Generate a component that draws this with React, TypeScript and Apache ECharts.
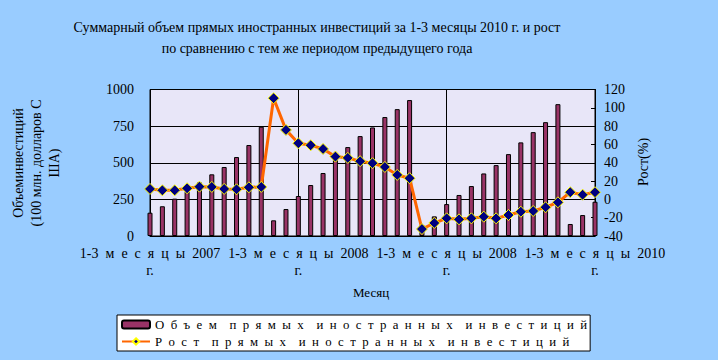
import React, { useEffect, useRef } from "react";
import * as echarts from "echarts";

const categories: string[] = [
  "1-3 месяцы 2007 г.", "1-4 месяцы 2007 г.", "1-5 месяцы 2007 г.", "1-6 месяцы 2007 г.",
  "1-7 месяцы 2007 г.", "1-8 месяцы 2007 г.", "1-9 месяцы 2007 г.", "1-10 месяцы 2007 г.",
  "1-11 месяцы 2007 г.", "1-12 месяцы 2007 г.",
  "1 месяц 2008 г.", "1-2 месяцы 2008 г.", "1-3 месяцы 2008 г.", "1-4 месяцы 2008 г.",
  "1-5 месяцы 2008 г.", "1-6 месяцы 2008 г.", "1-7 месяцы 2008 г.", "1-8 месяцы 2008 г.",
  "1-9 месяцы 2008 г.", "1-10 месяцы 2008 г.", "1-11 месяцы 2008 г.", "1-12 месяцы 2008 г.",
  "1 месяц 2009 г.", "1-2 месяцы 2009 г.", "1-3 месяцы 2008 г.", "1-4 месяцы 2009 г.",
  "1-5 месяцы 2009 г.", "1-6 месяцы 2009 г.", "1-7 месяцы 2009 г.", "1-8 месяцы 2009 г.",
  "1-9 месяцы 2009 г.", "1-10 месяцы 2009 г.", "1-11 месяцы 2009 г.", "1-12 месяцы 2009 г.",
  "1 месяц 2010 г.", "1-2 месяцы 2010 г.", "1-3 месяцы 2010 г.",
];

const volumeValues: number[] = [
  159, 203, 255, 303, 366, 421, 471, 539, 621, 746,
  107, 184, 273, 348, 430, 520, 607, 682, 741, 812, 866, 928,
  75, 134, 218, 280, 341, 427, 484, 559, 639, 709, 777, 900,
  82, 143, 234,
];

const growthValues: number[] = [
  11.4, 9.9, 9.9, 12.1, 13.9, 13.6, 11.4, 11.0, 13.2, 13.6,
  110.5, 75.9, 61.3, 59.1, 55.1, 46.7, 45.3, 41.7, 39.5, 35.4, 26.7, 23.1,
  -32.4, -25.8, -20.7, -21.8, -20.7, -18.9, -20.7, -17.1, -13.5, -12.7, -8.6, -3.2,
  7.8, 5.1, 7.8,
];

const seriesNames: string[] = [
  "Объем прямых иностранных инвестиций",
  "Рост прямых иностранных инвестиций",
];

const titleText = "Суммарный объем прямых иностранных инвестиций за 1-3 месяцы 2010 г. и рост\nпо сравнению с тем же периодом предыдущего года";
const leftAxisTitle = "Объеминвестиций\n(100 млн. долларов С\nША)";
const rightAxisTitle = "Рост(%)";
const xAxisTitle = "Месяц";

const FONT = "'Liberation Serif', 'Times New Roman', serif";

const spread = (w: string) => w.split("").join("  ");

export default function App() {
  const ref = useRef<HTMLDivElement>(null);
  useEffect(() => {
    document.body.style.margin = "0";
    const chart = echarts.init(ref.current!, undefined, { renderer: "svg" });
    chart.setOption({
      animation: false,
      backgroundColor: "#99CCFF",
      textStyle: { fontFamily: FONT, color: "#000" },
      grid: {
        left: 150,
        right: 123,
        top: 89.5,
        bottom: 124,
        show: true,
        backgroundColor: "#E8E6F8",
        borderColor: "#000",
        borderWidth: 1,
      },
      legend: {
        orient: "vertical",
        left: 117,
        top: 315,
        backgroundColor: "#fff",
        borderColor: "#000",
        borderWidth: 1,
        padding: [3, 3, 3, 4],
        itemWidth: 28,
        itemHeight: 8,
        itemGap: 4,
        textStyle: { fontFamily: FONT, fontSize: 12.8, color: "#000" },
        formatter: (name: string) => name.split(" ").map(spread).join("    "),
        data: seriesNames,
      },
      xAxis: {
        type: "category",
        data: categories,
        boundaryGap: false,
        axisLine: { lineStyle: { color: "#000", width: 1 } },
        axisTick: { show: false },
        axisLabel: {
          interval: 11,
          margin: 9,
          fontFamily: FONT,
          fontSize: 14,
          lineHeight: 17,
          color: "#000",
          formatter: (v: string) => {
            const p = v.split(" ");
            return p[0] + "  " + spread(p[1]) + "  " + p[2] + "\n" + p[3];
          },
        },
        splitLine: { show: true, interval: 11, lineStyle: { color: "#000", width: 1 } },
      },
      yAxis: [
        {
          type: "value",
          min: 0,
          max: 1000,
          interval: 250,
          axisLine: { show: true, lineStyle: { color: "#000" } },
          axisTick: { show: false },
          axisLabel: {
            margin: 16,
            fontFamily: FONT,
            fontSize: 14,
            color: "#000",
            formatter: (v: number) => String(v),
          },
          splitLine: { show: true, lineStyle: { color: "#000", width: 1 } },
        },
        {
          type: "value",
          min: -40,
          max: 120,
          interval: 20,
          position: "right",
          axisLine: { show: true, lineStyle: { color: "#000" } },
          axisTick: { show: true, inside: true, length: 4, lineStyle: { color: "#000" } },
          axisLabel: { margin: 9, fontFamily: FONT, fontSize: 14, color: "#000" },
          splitLine: { show: false },
        },
      ],
      series: [
        {
          name: seriesNames[0],
          type: "bar",
          yAxisIndex: 0,
          data: volumeValues,
          barWidth: 5,
          clip: true,
          itemStyle: { color: "#993366", borderColor: "#000", borderWidth: 1 },
        },
        {
          name: seriesNames[1],
          type: "line",
          yAxisIndex: 1,
          data: growthValues,
          clip: false,
          showSymbol: true,
          showAllSymbol: true,
          symbol: "diamond",
          symbolSize: 11,
          lineStyle: { color: "#FF6600", width: 3 },
          itemStyle: { color: "#000080", borderColor: "#FFFF00", borderWidth: 1 },
        },
      ],
      graphic: [
        {
          type: "text",
          x: 317,
          y: 38,
          style: {
            text: titleText,
            align: "center",
            verticalAlign: "middle",
            font: `14px ${FONT}`,
            lineHeight: 21,
            fill: "#000",
          },
        },
        {
          type: "text",
          x: 36,
          y: 163,
          rotation: Math.PI / 2,
          style: {
            text: leftAxisTitle,
            align: "center",
            verticalAlign: "middle",
            font: `14px ${FONT}`,
            lineHeight: 18,
            fill: "#000",
          },
        },
        {
          type: "text",
          x: 643,
          y: 162,
          rotation: Math.PI / 2,
          style: {
            text: rightAxisTitle,
            align: "center",
            verticalAlign: "middle",
            font: `14px ${FONT}`,
            fill: "#000",
          },
        },
        {
          type: "text",
          x: 371,
          y: 292,
          style: {
            text: xAxisTitle,
            align: "center",
            verticalAlign: "middle",
            font: `13px ${FONT}`,
            fill: "#000",
          },
        },
      ],
    });
    return () => chart.dispose();
  }, []);
  return <div ref={ref} style={{ width: 718, height: 360 }} />;
}
